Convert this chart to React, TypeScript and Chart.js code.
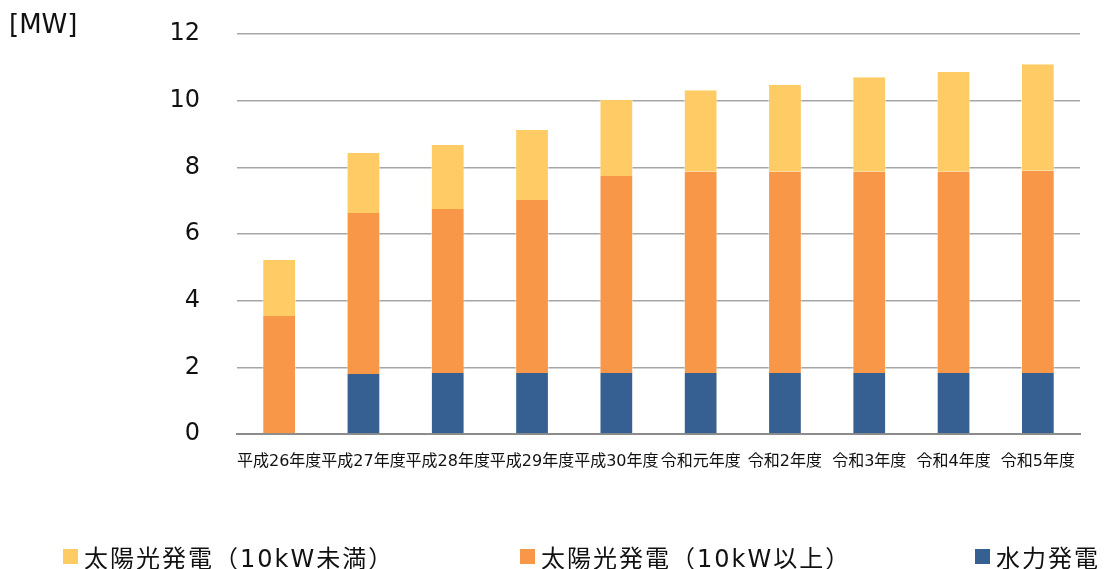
import React, { useEffect, useRef } from "react";
import { Chart, registerables } from "chart.js";

Chart.register(...registerables);

// 年度
const categories = [
  "平成26年度",
  "平成27年度",
  "平成28年度",
  "平成29年度",
  "平成30年度",
  "令和元年度",
  "令和2年度",
  "令和3年度",
  "令和4年度",
  "令和5年度",
];

// 水力発電 [MW]
const hydro = [0, 1.8, 1.83, 1.83, 1.83, 1.83, 1.83, 1.83, 1.83, 1.83];
// 太陽光発電（10kW以上） [MW]
const solarLarge = [3.54, 4.83, 4.92, 5.19, 5.91, 6.04, 6.04, 6.04, 6.04, 6.07];
// 太陽光発電（10kW未満） [MW]
const solarSmall = [1.68, 1.8, 1.92, 2.1, 2.28, 2.44, 2.61, 2.83, 2.99, 3.19];

const yTicks = [0, 2, 4, 6, 8, 10, 12];

const COLOR_SMALL = "#FFCB65";
const COLOR_LARGE = "#F79747";
const COLOR_HYDRO = "#376092";

const NUM_FONT = "'DejaVu Sans', Verdana, 'Noto Sans CJK JP', sans-serif";
const JP_FONT = "'DejaVu Sans', 'Noto Sans CJK JP', sans-serif";

const legendItems = [
  { label: "太陽光発電（10kW未満）", color: COLOR_SMALL, left: 63 },
  { label: "太陽光発電（10kW以上）", color: COLOR_LARGE, left: 520 },
  { label: "水力発電", color: COLOR_HYDRO, left: 975 },
];

export default function App() {
  const canvasRef = useRef<HTMLCanvasElement | null>(null);

  useEffect(() => {
    const canvas = canvasRef.current;
    if (!canvas) return;
    const barStyle = {
      borderColor: "rgba(255,255,255,0.55)",
      borderWidth: { left: 1, right: 1, top: 0, bottom: 0 },
      borderSkipped: false as const,
      categoryPercentage: 0.8,
      barPercentage: 0.5,
    };
    const chart = new Chart(canvas, {
      type: "bar",
      data: {
        labels: categories,
        datasets: [
          { label: "水力発電", data: hydro, backgroundColor: COLOR_HYDRO, ...barStyle },
          { label: "太陽光発電（10kW以上）", data: solarLarge, backgroundColor: COLOR_LARGE, ...barStyle },
          { label: "太陽光発電（10kW未満）", data: solarSmall, backgroundColor: COLOR_SMALL, ...barStyle },
        ],
      },
      options: {
        animation: false,
        responsive: false,
        maintainAspectRatio: false,
        layout: { padding: { top: 34, right: 27, left: 0, bottom: 0 } },
        plugins: {
          legend: { display: false },
          tooltip: { enabled: false },
        },
        scales: {
          x: {
            stacked: true,
            grid: { display: false, drawTicks: false },
            border: { display: true, color: "#8c8c8c", width: 2 },
            ticks: {
              padding: 18,
              maxRotation: 0,
              autoSkip: false,
              color: "#111",
              font: { family: JP_FONT, size: 16 },
            },
            afterFit: (s: any) => {
              s.height = 135;
              s.paddingLeft = 0;
              s.paddingRight = 0;
            },
          },
          y: {
            stacked: true,
            min: 0,
            max: 12,
            afterBuildTicks: (s: any) => {
              s.ticks = yTicks.map((v) => ({ value: v }));
            },
            grid: { color: "#a6a6a6", lineWidth: 1.5, drawTicks: false },
            border: { display: false },
            ticks: {
              padding: 37,
              color: "#111",
              font: { family: NUM_FONT, size: 24 },
            },
            afterFit: (s: any) => {
              s.width = 237;
              s.paddingTop = 0;
              s.paddingBottom = 0;
            },
          },
        },
      },
    });
    return () => chart.destroy();
  }, []);

  return (
    <div style={{ position: "absolute", left: 0, top: 0, width: 1107, height: 569, background: "#fff" }}>
      <canvas ref={canvasRef} width={1107} height={569} style={{ position: "absolute", left: 0, top: 0 }} />
      <div
        style={{
          position: "absolute",
          left: 9,
          top: 8,
          fontFamily: NUM_FONT,
          fontSize: 26,
          lineHeight: "32px",
          color: "#111",
        }}
      >
        [MW]
      </div>
      {legendItems.map((it) => (
        <div
          key={it.label}
          style={{
            position: "absolute",
            left: it.left,
            top: 541,
            height: 30,
            display: "flex",
            alignItems: "center",
            fontFamily: JP_FONT,
            fontSize: 24,
            letterSpacing: 2,
            color: "#111",
            whiteSpace: "nowrap",
          }}
        >
          <span style={{ display: "inline-block", width: 15, height: 15, background: it.color, marginRight: 6 }} />
          <span>{it.label}</span>
        </div>
      ))}
    </div>
  );
}
